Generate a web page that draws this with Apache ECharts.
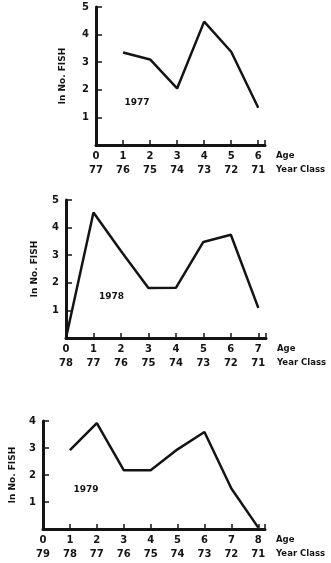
<!DOCTYPE html>
<html>
<head>
<meta charset="utf-8">
<script src="https://cdn.jsdelivr.net/npm/echarts@6/dist/echarts.min.js"></script>
<style>
  html, body { margin: 0; padding: 0; background: #fff; }
  #chart { width: 331px; height: 563px; }
</style>
</head>
<body>
<div id="chart"></div>
<script>
// Catch curves: ln number of fish by age, one panel per sampling year
const ages1977 = [1, 2, 3, 4, 5, 6];
const lnFish1977 = [3.35, 3.1, 2.05, 4.47, 3.38, 1.35];
const yearClass1977 = ['77', '76', '75', '74', '73', '72', '71'];

const ages1978 = [0, 1, 2, 3, 4, 5, 6, 7];
const lnFish1978 = [0, 4.55, 3.15, 1.81, 1.82, 3.48, 3.74, 1.09];
const yearClass1978 = ['78', '77', '76', '75', '74', '73', '72', '71'];

const ages1979 = [1, 2, 3, 4, 5, 6, 7, 8];
const lnFish1979 = [2.92, 3.92, 2.18, 2.18, 2.95, 3.59, 1.5, 0.05];
const yearClass1979 = ['79', '78', '77', '76', '75', '74', '73', '72', '71'];

const yTicks5 = [1, 2, 3, 4, 5];
const yTicks4 = [1, 2, 3, 4];

const panels = [
  { label: '1977', ages: ages1977, values: lnFish1977, yearClass: yearClass1977, yTicks: yTicks5,
    labelAt: [1.52, 1.52], grid: { left: 96, top: 7, width: 169, height: 138 }, xMax: 6.25, yMax: 5, titleGap: 29 },
  { label: '1978', ages: ages1978, values: lnFish1978, yearClass: yearClass1978, yTicks: yTicks5,
    labelAt: [1.66, 1.5], grid: { left: 66, top: 200, width: 200, height: 138 }, xMax: 7.28, yMax: 5, titleGap: 27 },
  { label: '1979', ages: ages1979, values: lnFish1979, yearClass: yearClass1979, yTicks: yTicks4,
    labelAt: [1.6, 1.46], grid: { left: 39, top: 421, width: 226, height: 108 }, xMax: 8.25, yMax: 4, titleGap: 26 }
];

const ink = '#141414';
const font = 'DejaVu Sans';

const option = {
  backgroundColor: '#ffffff',
  animation: false,
  grid: [], xAxis: [], yAxis: [], series: []
};

panels.forEach((p, i) => {
  const ageTicks = p.yearClass.map((_, k) => k);
  option.grid.push(Object.assign({ containLabel: false }, p.grid));
  option.xAxis.push({
    type: 'value', gridIndex: i, min: 0, max: p.xMax, interval: 1,
    splitLine: { show: false },
    axisLine: { show: true, onZero: false, lineStyle: { color: ink, width: 3 } },
    axisTick: { show: true, inside: true, length: 5, lineStyle: { color: ink, width: 1.5 } },
    axisLabel: {
      customValues: ageTicks, margin: 4, color: ink, fontFamily: font, fontWeight: 'bold', fontSize: 10,
      lineHeight: 14,
      formatter: v => v + '\n' + p.yearClass[v]
    },
    name: 'Age\nYear Class', nameLocation: 'end', nameGap: 11,
    nameTextStyle: { color: ink, fontFamily: font, fontWeight: 'bold', fontSize: 8.5, align: 'left',
      verticalAlign: 'top', lineHeight: 14, padding: [4, 0, 0, 0] }
  });
  option.yAxis.push({
    type: 'value', gridIndex: i, min: 0, max: p.yMax, interval: 1,
    splitLine: { show: false },
    axisLine: { show: true, onZero: false, lineStyle: { color: ink, width: 3 } },
    axisTick: { show: true, inside: true, length: 6, lineStyle: { color: ink, width: 1.5 } },
    axisLabel: { customValues: p.yTicks, margin: 7, color: ink, fontFamily: font, fontWeight: 'bold', fontSize: 10 },
    name: 'ln No. FISH', nameLocation: 'middle', nameRotate: 90, nameGap: p.titleGap,
    nameTextStyle: { color: ink, fontFamily: font, fontWeight: 'bold', fontSize: 9 }
  });
  option.series.push({
    type: 'line', xAxisIndex: i, yAxisIndex: i,
    data: p.ages.map((a, k) => [a, p.values[k]]),
    showSymbol: false, symbol: 'none',
    lineStyle: { color: ink, width: 2.5 },
    markPoint: {
      symbol: 'circle', symbolSize: 0,
      label: { show: true, position: 'inside', formatter: p.label, color: ink,
        fontFamily: font, fontWeight: 'bold', fontSize: 9 },
      data: [{ coord: p.labelAt }]
    }
  });
});

const chart = echarts.init(document.getElementById('chart'), null, { renderer: 'canvas' });
chart.setOption(option);
</script>
</body>
</html>
